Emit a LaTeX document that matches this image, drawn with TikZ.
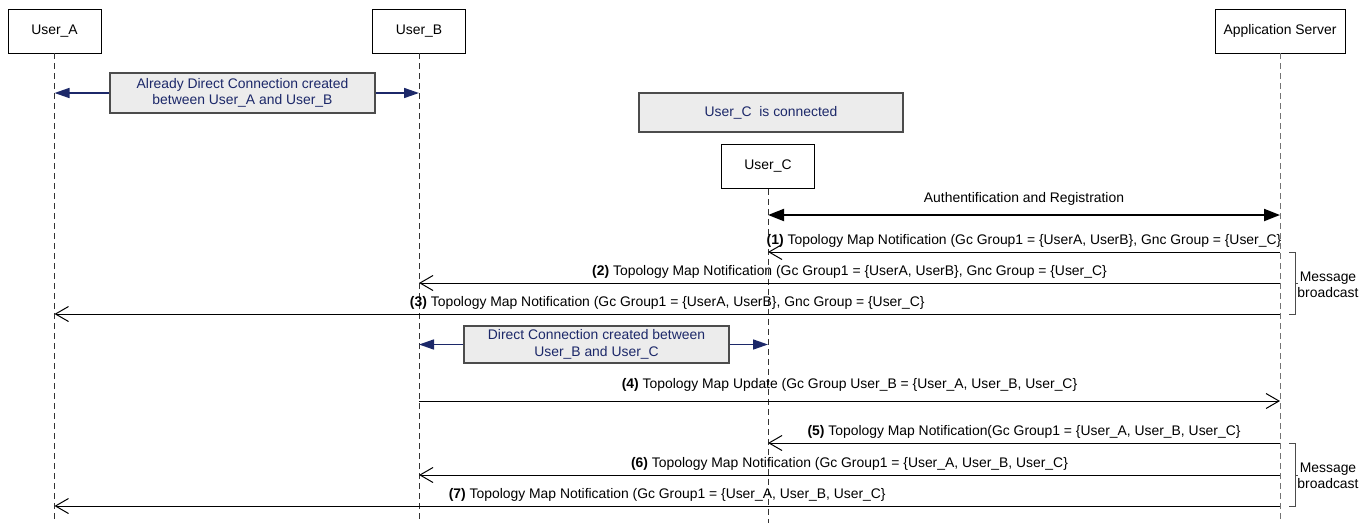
\documentclass[tikz,border=0pt]{standalone}
\usepackage{fontspec}
\setmainfont{Liberation Sans}
\usetikzlibrary{arrows.meta,positioning}
\definecolor{notenavy}{RGB}{28,40,105}
\definecolor{notegrey}{RGB}{236,236,236}
\tikzset{
    %Define style for lifeline heads
    actor/.style={
           rectangle,
           draw=black, line width=0.9pt,
           minimum width=93pt,
           minimum height=44pt,
           font=\fontsize{13.9}{16}\selectfont,
           text centered,
           fill=white},
    %Define style for grey notes
    note/.style={
           rectangle,
           draw=black!70, line width=1.1pt,
           fill=notegrey,
           text=notenavy,
           align=center,
           font=\fontsize{13.9}{16.5}\selectfont},
    lifeline/.style={
           dash pattern=on 6pt off 4pt,
           draw=black!80, line width=0.9pt},
    % Define arrow styles
    msg/.style={
           -{Straight Barb[length=13pt,width=15pt]},
           line width=1pt},
    conn/.style={
           -{Triangle[length=15pt,width=10pt]},
           draw=notenavy, line width=1.6pt},
    auth/.style={
           {Triangle[length=16pt,width=12pt]}-{Triangle[length=16pt,width=12pt]},
           line width=2pt},
    lbl/.style={
           above=2pt, inner sep=2pt, midway,
           font=\fontsize{13.9}{16}\selectfont},
    bracket/.style={draw=black!70, line width=0.8pt},
    bcast/.style={align=center, font=\fontsize{13.9}{16.5}\selectfont}
}
\begin{document}
\begin{tikzpicture}[x=1pt,y=-1pt]
\useasboundingbox (0,0) rectangle (1372,523);
 %nodes
\node[actor](userA) at (54.5,31){User\_A};
\node[actor](userB) at (419,31){User\_B};
\node[actor, minimum width=130pt](appServer) at (1280,31){Application Server};
\node[note, minimum width=264pt, minimum height=39pt](connNote) at (771,112.5){User\_C\ \ is connected};
\node[actor](userC) at (768,166.5){User\_C};
\coordinate (bottom) at (0,523);
 %lifelines
\draw[lifeline] (userA.south) -- (userA |- bottom);
\draw[lifeline] (userB.south) -- (userB |- bottom);
\draw[lifeline] (userC.south) -- (userC |- bottom);
\draw[lifeline, draw=black!55] (appServer.south) -- (appServer |- bottom);
 %direct connections
\node[note, minimum width=265pt, minimum height=40pt](directAB) at (242.5,93){Already Direct Connection created\\between User\_A and User\_B};
\draw[conn] (directAB.west) -- (userA |- directAB.west);
\draw[conn] (directAB.east) -- (userB |- directAB.east);
\node[note, minimum width=265pt, minimum height=37pt](directBC) at (596.5,344.5){Direct Connection created between\\User\_B and User\_C};
\draw[conn] (directBC.west) -- (userB |- directBC.west);
\draw[conn] (directBC.east) -- (userC |- directBC.east);
 %messages
\coordinate (a0) at (0,215);
\coordinate (m1) at (0,252);
\coordinate (m2) at (0,283);
\coordinate (m3) at (0,314);
\coordinate (m4) at (0,401);
\coordinate (m5) at (0,443);
\coordinate (m6) at (0,475);
\coordinate (m7) at (0,506);
\draw[auth] (userC |- a0) -- node[lbl, above=7pt]{Authentification and Registration} (appServer |- a0);
\draw[msg] (appServer |- m1) -- node[lbl]{\textbf{(1)} Topology Map Notification (Gc Group1 = \{UserA, UserB\}, Gnc Group = \{User\_C\}} (userC |- m1);
\draw[msg] (appServer |- m2) -- node[lbl]{\textbf{(2)} Topology Map Notification (Gc Group1 = \{UserA, UserB\}, Gnc Group = \{User\_C\}} (userB |- m2);
\draw[msg] (appServer |- m3) -- node[lbl]{\textbf{(3)} Topology Map Notification (Gc Group1 = \{UserA, UserB\}, Gnc Group = \{User\_C\}} (userA |- m3);
\draw[msg] (userB |- m4) -- node[lbl, above=7pt]{\textbf{(4)} Topology Map Update (Gc Group User\_B = \{User\_A, User\_B, User\_C\}} (appServer |- m4);
\draw[msg] (appServer |- m5) -- node[lbl]{\textbf{(5)} Topology Map Notification(Gc Group1 = \{User\_A, User\_B, User\_C\}} (userC |- m5);
\draw[msg] (appServer |- m6) -- node[lbl]{\textbf{(6)} Topology Map Notification (Gc Group1 = \{User\_A, User\_B, User\_C\}} (userB |- m6);
\draw[msg] (appServer |- m7) -- node[lbl]{\textbf{(7)} Topology Map Notification (Gc Group1 = \{User\_A, User\_B, User\_C\}} (userA |- m7);
 %broadcast brackets
\coordinate (b1) at (1295,0);
\draw[bracket] (1289,252) -- (b1 |- m1) -- (b1 |- m3) -- (1289,314);
\draw[bracket] (b1 |- m2) -- (1298,283);
\node[bcast](bcast1) at (1328,285){Message\\broadcast};
\draw[bracket] (1289,443) -- (b1 |- m5) -- (b1 |- m7) -- (1289,506);
\draw[bracket] (b1 |- m6) -- (1298,475);
\node[bcast](bcast2) at (1328,476){Message\\broadcast};
\end{tikzpicture}
\end{document}
